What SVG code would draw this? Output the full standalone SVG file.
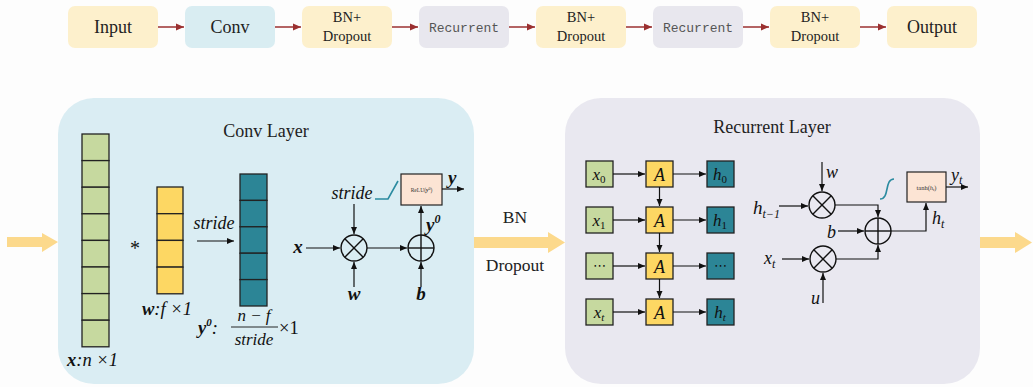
<svg xmlns="http://www.w3.org/2000/svg" width="1033" height="387" viewBox="0 0 1033 387">
<style>
.tb{stroke:none}
.y{fill:#fdf0cc}.b{fill:#d9edf2}.g{fill:#e8e7ee}
.t18{font-family:"Liberation Serif",serif;font-size:18px;fill:#222;text-anchor:middle}
.t15{font-family:"Liberation Serif",serif;font-size:14.5px;fill:#222;text-anchor:middle}
.mono{font-family:"Liberation Mono",monospace;font-size:13px;fill:#555;text-anchor:middle}
.red{stroke:#9b3030;stroke-width:1.5;fill:none}
.k{stroke:#111;stroke-width:1.2;fill:none}
.cell{stroke:#222;stroke-width:1.3}
.gc{fill:#c6d99f}.yc{fill:#fdd763}.tc{fill:#2c8596}
.mi{font-family:"Liberation Serif",serif;font-style:italic;fill:#111}
.mb{font-family:"Liberation Serif",serif;font-style:italic;font-weight:bold;fill:#111}
.sym{stroke:#111;stroke-width:1.4;fill:none}
.teal{stroke:#2b8ba0;stroke-width:1.6;fill:none}
.big{fill:#fcd98c}
</style>
<defs>
<marker id="ar" markerUnits="userSpaceOnUse" markerWidth="9" markerHeight="8" refX="8" refY="4" orient="auto"><path d="M0,0.5 L8,4 L0,7.5 Z" fill="#9b3030"/></marker>
<marker id="ak" markerUnits="userSpaceOnUse" markerWidth="8" markerHeight="7" refX="7" refY="3.5" orient="auto"><path d="M0,0.5 L7,3.5 L0,6.5 Z" fill="#111"/></marker>
</defs>
<rect width="1033" height="387" fill="#fdfdfd"/>

<!-- top pipeline -->
<g id="top-input"><rect x="68" y="6" width="90" height="42" rx="7" class="y"/><text x="113" y="33" class="t18">Input</text></g>
<g id="top-conv"><rect x="185" y="6" width="90" height="42" rx="7" class="b"/><text x="230" y="33" class="t18">Conv</text></g>
<g id="top-bn1"><rect x="302" y="6" width="90" height="42" rx="7" class="y"/><text x="347" y="22" class="t15">BN+</text><text x="347" y="41" class="t15">Dropout</text></g>
<g id="top-rec1"><rect x="419" y="6" width="90" height="42" rx="7" class="g"/><text x="464" y="32" class="mono">Recurrent</text></g>
<g id="top-bn2"><rect x="536" y="6" width="90" height="42" rx="7" class="y"/><text x="581" y="22" class="t15">BN+</text><text x="581" y="41" class="t15">Dropout</text></g>
<g id="top-rec2"><rect x="653" y="6" width="90" height="42" rx="7" class="g"/><text x="698" y="32" class="mono">Recurrent</text></g>
<g id="top-bn3"><rect x="770" y="6" width="90" height="42" rx="7" class="y"/><text x="815" y="22" class="t15">BN+</text><text x="815" y="41" class="t15">Dropout</text></g>
<g id="top-output"><rect x="887" y="6" width="90" height="42" rx="7" class="y"/><text x="932" y="33" class="t18">Output</text></g>

<g id="top-connectors">
<line x1="158" y1="27" x2="184" y2="27" class="red" marker-end="url(#ar)"/>
<line x1="275" y1="27" x2="301" y2="27" class="red" marker-end="url(#ar)"/>
<line x1="392" y1="27" x2="418" y2="27" class="red" marker-end="url(#ar)"/>
<line x1="509" y1="27" x2="535" y2="27" class="red" marker-end="url(#ar)"/>
<line x1="626" y1="27" x2="652" y2="27" class="red" marker-end="url(#ar)"/>
<line x1="743" y1="27" x2="769" y2="27" class="red" marker-end="url(#ar)"/>
<line x1="860" y1="27" x2="886" y2="27" class="red" marker-end="url(#ar)"/>
</g>

<!-- panels -->
<g id="conv-layer">
<rect x="58" y="98" width="416" height="286" rx="36" fill="#daedf3"/>
<text x="266" y="137" class="t18">Conv Layer</text>
</g>
<g id="recurrent-layer">
<rect x="565" y="98" width="415" height="286" rx="36" fill="#e9e8f0"/>
<text x="772" y="133" class="t18">Recurrent Layer</text>
</g>

<!-- big arrows -->
<g id="big-arrows">
<path class="big" d="M7,237 L42,237 L42,233 L58,242 L42,252 L42,247 L7,247 Z"/>
<path class="big" d="M474,237 L548,237 L548,232 L565,242.5 L548,253 L548,248 L474,248 Z"/>
<path class="big" d="M980,237 L1015,237 L1015,232 L1032,242.5 L1015,253 L1015,248 L980,248 Z"/>
</g>
<g id="bn-dropout-label">
<text x="515" y="223" font-family="Liberation Serif,serif" font-size="17.5" fill="#222" text-anchor="middle">BN</text>
<text x="515" y="271" font-family="Liberation Serif,serif" font-size="17.5" fill="#222" text-anchor="middle">Dropout</text>
</g>

<!-- conv columns -->
<g id="x-column">
<rect x="82" y="134" width="27" height="26.6" class="cell gc"/>
<rect x="82" y="160.6" width="27" height="26.6" class="cell gc"/>
<rect x="82" y="187.2" width="27" height="26.6" class="cell gc"/>
<rect x="82" y="213.8" width="27" height="26.6" class="cell gc"/>
<rect x="82" y="240.4" width="27" height="26.6" class="cell gc"/>
<rect x="82" y="267" width="27" height="26.6" class="cell gc"/>
<rect x="82" y="293.6" width="27" height="26.6" class="cell gc"/>
<rect x="82" y="320.2" width="27" height="26.6" class="cell gc"/>
<text x="67" y="366" font-size="18.5"><tspan class="mb">x</tspan><tspan class="mi" font-style="normal">:</tspan><tspan class="mi">n </tspan><tspan class="mi" font-style="normal">×1</tspan></text>
</g>
<text x="135" y="255" font-family="Liberation Serif,serif" font-size="20" fill="#111" text-anchor="middle">*</text>
<g id="w-column">
<rect x="157" y="187" width="26" height="26.7" class="cell yc"/>
<rect x="157" y="213.7" width="26" height="26.7" class="cell yc"/>
<rect x="157" y="240.4" width="26" height="26.7" class="cell yc"/>
<rect x="157" y="267.1" width="26" height="26.7" class="cell yc"/>
<text x="142" y="315" font-size="18.5"><tspan class="mb">w</tspan><tspan class="mi" font-style="normal">:</tspan><tspan class="mi">f </tspan><tspan class="mi" font-style="normal">×1</tspan></text>
</g>
<g id="stride-arrow">
<text x="214" y="229" class="mi" font-size="18" text-anchor="middle">stride</text>
<line x1="197" y1="241" x2="234" y2="241" class="k" marker-end="url(#ak)"/>
</g>
<g id="y0-column">
<rect x="240" y="174" width="27" height="26.4" class="cell tc"/>
<rect x="240" y="200.4" width="27" height="26.4" class="cell tc"/>
<rect x="240" y="226.8" width="27" height="26.4" class="cell tc"/>
<rect x="240" y="253.2" width="27" height="26.4" class="cell tc"/>
<rect x="240" y="279.6" width="27" height="26.4" class="cell tc"/>
<text x="198" y="334" font-size="18.5"><tspan class="mb">y</tspan><tspan class="mb" font-size="11" dy="-8">0</tspan><tspan class="mi" font-style="normal" dy="8">:</tspan></text>
<text x="254" y="321" class="mi" font-size="17" text-anchor="middle">n − f</text>
<line x1="231" y1="327" x2="278" y2="327" stroke="#111" stroke-width="0.9"/>
<text x="254" y="345" class="mi" font-size="17" text-anchor="middle">stride</text>
<text x="279" y="334" font-family="Liberation Serif,serif" font-size="18.5" fill="#111">×1</text>
</g>

<!-- conv operation -->
<g id="mult-conv">
<circle cx="354" cy="248" r="13" class="sym"/>
<line x1="344.8" y1="238.8" x2="363.2" y2="257.2" class="sym"/>
<line x1="363.2" y1="238.8" x2="344.8" y2="257.2" class="sym"/>
</g>
<g id="plus-conv">
<circle cx="421" cy="248" r="13" class="sym"/>
<line x1="408" y1="248" x2="434" y2="248" class="sym"/>
<line x1="421" y1="235" x2="421" y2="261" class="sym"/>
</g>
<g id="relu-box">
<rect x="401" y="174" width="41" height="31" fill="#fce4d4" stroke="#222" stroke-width="1.2"/>
<text x="421.5" y="191.5" font-family="Liberation Serif,serif" font-size="5.5" fill="#333" text-anchor="middle">ReLU(<tspan font-style="italic" font-weight="bold">y</tspan><tspan font-size="4" dy="-2">0</tspan><tspan dy="2">)</tspan></text>
</g>
<g id="conv-labels">
<text x="298" y="253" class="mb" font-size="19" text-anchor="middle">x</text>
<text x="354" y="300" class="mb" font-size="19" text-anchor="middle">w</text>
<text x="421" y="300" class="mb" font-size="19" text-anchor="middle">b</text>
<text x="352" y="199" class="mi" font-size="18" text-anchor="middle">stride</text>
<text x="426" y="231" class="mb" font-size="19">y<tspan font-size="12" dy="-8">0</tspan></text>
<text x="448" y="184" class="mb" font-size="19">y</text>
<path d="M375,199 L388,199 L398,181" class="teal"/>
</g>

<!-- recurrent grid -->
<g id="rnn-x0"><rect x="586" y="161" width="27" height="26" class="cell gc"/><text x="599" y="180" class="mi" font-size="17" text-anchor="middle">x<tspan font-size="11" font-style="normal" dy="3">0</tspan></text></g>
<g id="rnn-x1"><rect x="586" y="207" width="27" height="26" class="cell gc"/><text x="599" y="226" class="mi" font-size="17" text-anchor="middle">x<tspan font-size="11" font-style="normal" dy="3">1</tspan></text></g>
<g id="rnn-xd"><rect x="586" y="253" width="27" height="26" class="cell gc"/><text x="599.5" y="270" font-family="DejaVu Sans,sans-serif" font-size="13" fill="#111" text-anchor="middle">⋯</text></g>
<g id="rnn-xt"><rect x="586" y="299" width="27" height="26" class="cell gc"/><text x="599" y="318" class="mi" font-size="17" text-anchor="middle">x<tspan font-size="11" dy="3">t</tspan></text></g>
<g id="rnn-a0"><rect x="646" y="161" width="27" height="26" class="cell yc"/><text x="659.5" y="180.5" class="mi" font-size="18" text-anchor="middle">A</text></g>
<g id="rnn-a1"><rect x="646" y="207" width="27" height="26" class="cell yc"/><text x="659.5" y="226.5" class="mi" font-size="18" text-anchor="middle">A</text></g>
<g id="rnn-a2"><rect x="646" y="253" width="27" height="26" class="cell yc"/><text x="659.5" y="272.5" class="mi" font-size="18" text-anchor="middle">A</text></g>
<g id="rnn-a3"><rect x="646" y="299" width="27" height="26" class="cell yc"/><text x="659.5" y="318.5" class="mi" font-size="18" text-anchor="middle">A</text></g>
<g id="rnn-h0"><rect x="707" y="161" width="27" height="26" class="cell tc"/><text x="720" y="180" class="mi" font-size="17" text-anchor="middle">h<tspan font-size="11" font-style="normal" dy="3">0</tspan></text></g>
<g id="rnn-h1"><rect x="707" y="207" width="27" height="26" class="cell tc"/><text x="720" y="226" class="mi" font-size="17" text-anchor="middle">h<tspan font-size="11" font-style="normal" dy="3">1</tspan></text></g>
<g id="rnn-hd"><rect x="707" y="253" width="27" height="26" class="cell tc"/><text x="720.5" y="270" font-family="DejaVu Sans,sans-serif" font-size="13" fill="#111" text-anchor="middle">⋯</text></g>
<g id="rnn-ht"><rect x="707" y="299" width="27" height="26" class="cell tc"/><text x="720" y="318" class="mi" font-size="17" text-anchor="middle">h<tspan font-size="11" dy="3">t</tspan></text></g>

<!-- recurrent cell -->
<g id="mult-h">
<circle cx="822" cy="205" r="13" class="sym"/>
<line x1="812.8" y1="195.8" x2="831.2" y2="214.2" class="sym"/>
<line x1="831.2" y1="195.8" x2="812.8" y2="214.2" class="sym"/>
</g>
<g id="mult-x">
<circle cx="823" cy="259" r="13" class="sym"/>
<line x1="813.8" y1="249.8" x2="832.2" y2="268.2" class="sym"/>
<line x1="832.2" y1="249.8" x2="813.8" y2="268.2" class="sym"/>
</g>
<g id="plus-rnn">
<circle cx="878" cy="231" r="13" class="sym"/>
<line x1="865" y1="231" x2="891" y2="231" class="sym"/>
<line x1="878" y1="218" x2="878" y2="244" class="sym"/>
</g>
<g id="tanh-box">
<rect x="907" y="172" width="39" height="30" fill="#fce4d4" stroke="#222" stroke-width="1.2"/>
<text x="926.5" y="189.5" font-family="Liberation Serif,serif" font-size="6.5" fill="#333" text-anchor="middle">tanh(<tspan font-style="italic">h</tspan><tspan font-size="4.5" font-style="italic" dy="1.5">t</tspan><tspan dy="-1.5">)</tspan></text>
</g>
<g id="rnn-labels">
<text x="826" y="178" class="mi" font-size="18">w</text>
<text x="753" y="214" class="mi" font-size="19">h<tspan font-size="12" dy="4">t−1</tspan></text>
<text x="827" y="238" class="mi" font-size="18">b</text>
<text x="764" y="264" class="mi" font-size="18">x<tspan font-size="12" dy="4">t</tspan></text>
<text x="811" y="304" class="mi" font-size="18">u</text>
<text x="932" y="224" class="mi" font-size="18">h<tspan font-size="12" dy="4">t</tspan></text>
<text x="951" y="181" class="mi" font-size="18">y<tspan font-size="12" dy="3">t</tspan></text>
<path d="M880,199 C890,199 884,179 894,179" class="teal"/>
</g>

<!-- connectors -->
<g id="connectors">
<line x1="306" y1="248" x2="340" y2="248" class="k" marker-end="url(#ak)"/>
<line x1="354" y1="204" x2="354" y2="234" class="k" marker-end="url(#ak)"/>
<line x1="354" y1="287" x2="354" y2="262" class="k" marker-end="url(#ak)"/>
<line x1="367" y1="248" x2="407" y2="248" class="k" marker-end="url(#ak)"/>
<line x1="421" y1="287" x2="421" y2="262" class="k" marker-end="url(#ak)"/>
<line x1="421" y1="235" x2="421" y2="206" class="k" marker-end="url(#ak)"/>
<line x1="442" y1="189" x2="464" y2="189" class="k" marker-end="url(#ak)"/>

<line x1="613" y1="174" x2="645" y2="174" class="k" marker-end="url(#ak)"/>
<line x1="613" y1="220" x2="645" y2="220" class="k" marker-end="url(#ak)"/>
<line x1="613" y1="266" x2="645" y2="266" class="k" marker-end="url(#ak)"/>
<line x1="613" y1="312" x2="645" y2="312" class="k" marker-end="url(#ak)"/>
<line x1="673" y1="174" x2="706" y2="174" class="k" marker-end="url(#ak)"/>
<line x1="673" y1="220" x2="706" y2="220" class="k" marker-end="url(#ak)"/>
<line x1="673" y1="266" x2="706" y2="266" class="k" marker-end="url(#ak)"/>
<line x1="673" y1="312" x2="706" y2="312" class="k" marker-end="url(#ak)"/>
<line x1="659.5" y1="187" x2="659.5" y2="206" class="k" marker-end="url(#ak)"/>
<line x1="659.5" y1="233" x2="659.5" y2="252" class="k" marker-end="url(#ak)"/>
<line x1="659.5" y1="279" x2="659.5" y2="298" class="k" marker-end="url(#ak)"/>

<line x1="822" y1="162" x2="822" y2="191" class="k" marker-end="url(#ak)"/>
<line x1="779" y1="206" x2="808" y2="206" class="k" marker-end="url(#ak)"/>
<polyline points="835,205 878,205 878,217" class="k" marker-end="url(#ak)"/>
<line x1="838" y1="231" x2="864" y2="231" class="k" marker-end="url(#ak)"/>
<line x1="782" y1="259" x2="809" y2="259" class="k" marker-end="url(#ak)"/>
<line x1="823" y1="303" x2="823" y2="273" class="k" marker-end="url(#ak)"/>
<polyline points="836,259 878,259 878,245" class="k" marker-end="url(#ak)"/>
<polyline points="891,231 926,231 926,203" class="k" marker-end="url(#ak)"/>
<line x1="946" y1="187" x2="968" y2="187" class="k" marker-end="url(#ak)"/>
</g>
</svg>
